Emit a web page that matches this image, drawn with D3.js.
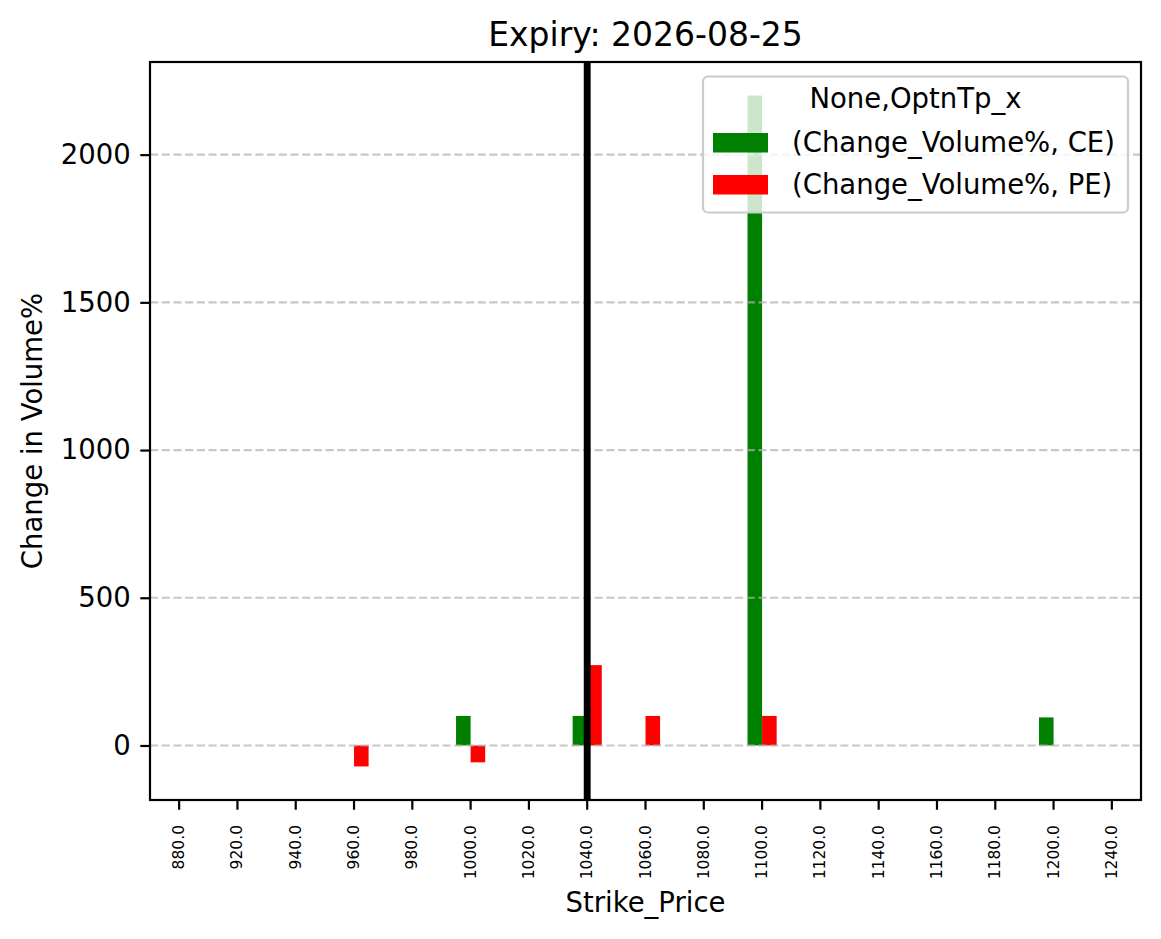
<!DOCTYPE html>
<html>
<head>
<meta charset="utf-8">
<script src="https://cdn.jsdelivr.net/npm/d3@7"></script>
<style>
  body { margin: 0; background: #fff; }
  text { font-family: "DejaVu Sans", sans-serif; fill: #000; }
</style>
</head>
<body>
<div id="chart"></div>
<script>
// strike prices (x categories)
const strikes = ["880.0", "920.0", "940.0", "960.0", "980.0", "1000.0", "1020.0", "1040.0",
  "1060.0", "1080.0", "1100.0", "1120.0", "1140.0", "1160.0", "1180.0", "1200.0", "1240.0"];
// change volume % per strike, null = no bar
const ceValues = [null, null, null, null, null, 100, null, 100, null, null, 2200, null, null, null, null, 95, null];
const peValues = [null, null, null, -71, null, -57, null, 272, 100, null, 100, null, null, null, null, null, null];
const yTicks = [0, 500, 1000, 1500, 2000];
const seriesNames = ["(Change_Volume%, CE)", "(Change_Volume%, PE)"];
const seriesColors = ["green", "red"];
const spotStrike = "1040.0";
const title = "Expiry: 2026-08-25";

const W = 1161, H = 939;
const mLeft = 150, mRight = 1141, mTop = 62, mBottom = 800;

const svg = d3.select("#chart").append("svg")
  .attr("width", W)
  .attr("height", H);

svg.append("rect").attr("width", W).attr("height", H).attr("fill", "#fff");

const x = d3.scaleBand()
  .domain(strikes)
  .range([mLeft, mRight])
  .padding(0);

// matplotlib style 5% margins
const all = ceValues.concat(peValues).filter(v => v !== null);
const lo = Math.min(0, d3.min(all)), hi = d3.max(all);
const pad = (hi - lo) * 0.05;
const y = d3.scaleLinear()
  .domain([lo - pad, hi + pad])
  .range([mBottom, mTop]);

const bw = x.bandwidth() * 0.25;

// bars
const g = svg.append("g");
[ceValues, peValues].forEach((vals, si) => {
  g.selectAll(null)
    .data(strikes.map((s, i) => ({s: s, v: vals[i]})).filter(d => d.v !== null))
    .enter().append("rect")
    .attr("x", d => x(d.s) + x.bandwidth() / 2 - bw + si * bw)
    .attr("width", bw)
    .attr("y", d => y(Math.max(0, d.v)))
    .attr("height", d => Math.abs(y(d.v) - y(0)))
    .attr("fill", seriesColors[si]);
});

// grid
svg.append("g").selectAll("line")
  .data(yTicks)
  .enter().append("line")
  .attr("x1", mLeft).attr("x2", mRight)
  .attr("y1", d => y(d)).attr("y2", d => y(d))
  .attr("stroke", "#b0b0b0")
  .attr("stroke-opacity", 0.7)
  .attr("stroke-width", 2.2)
  .attr("stroke-dasharray", "8.2,3.5");

// vertical spot line
svg.append("line")
  .attr("x1", x(spotStrike) + x.bandwidth() / 2)
  .attr("x2", x(spotStrike) + x.bandwidth() / 2)
  .attr("y1", mTop).attr("y2", mBottom)
  .attr("stroke", "#000")
  .attr("stroke-width", 6.9);

// axes
const xAxis = svg.append("g")
  .attr("transform", "translate(0," + mBottom + ")")
  .call(d3.axisBottom(x).tickSize(9.7).tickSizeOuter(0));
xAxis.select(".domain").remove();
xAxis.selectAll(".tick line").attr("stroke-width", 2.2);
xAxis.selectAll(".tick text")
  .attr("font-size", 15.5)
  .attr("font-family", "DejaVu Sans")
  .attr("text-anchor", "end")
  .attr("dominant-baseline", "central")
  .attr("dy", null)
  .attr("y", 0)
  .attr("transform", "translate(0,25) rotate(-90)");

const yAxis = svg.append("g")
  .attr("transform", "translate(" + mLeft + ",0)")
  .call(d3.axisLeft(y).tickValues(yTicks).tickFormat(d3.format("d"))
    .tickSize(9.7).tickPadding(9.6).tickSizeOuter(0));
yAxis.select(".domain").remove();
yAxis.selectAll(".tick line").attr("stroke-width", 2.2);
yAxis.selectAll(".tick text")
  .attr("font-size", 27.5)
  .attr("font-family", "DejaVu Sans");

// frame
svg.append("rect")
  .attr("x", mLeft).attr("y", mTop)
  .attr("width", mRight - mLeft).attr("height", mBottom - mTop)
  .attr("fill", "none")
  .attr("stroke", "#000")
  .attr("stroke-width", 2.2);

// title and labels
svg.append("text")
  .attr("x", (mLeft + mRight) / 2).attr("y", 46)
  .attr("text-anchor", "middle")
  .attr("font-size", 33)
  .text(title);

svg.append("text")
  .attr("x", (mLeft + mRight) / 2).attr("y", 912)
  .attr("text-anchor", "middle")
  .attr("font-size", 27.5)
  .text("Strike_Price");

svg.append("text")
  .attr("transform", "translate(42," + ((mTop + mBottom) / 2) + ") rotate(-90)")
  .attr("text-anchor", "middle")
  .attr("font-size", 27.5)
  .text("Change in Volume%");

// legend
const lg = svg.append("g");
lg.append("rect")
  .attr("x", 703).attr("y", 76.5)
  .attr("width", 425).attr("height", 136)
  .attr("rx", 5)
  .attr("fill", "#fff")
  .attr("fill-opacity", 0.8)
  .attr("stroke", "#cccccc")
  .attr("stroke-width", 2.2);
lg.append("text")
  .attr("x", 915.5).attr("y", 108)
  .attr("text-anchor", "middle")
  .attr("font-size", 27.5)
  .text("None,OptnTp_x");
seriesNames.forEach((name, i) => {
  lg.append("rect")
    .attr("x", 713).attr("y", 133 + i * 42)
    .attr("width", 55).attr("height", 19.5)
    .attr("fill", seriesColors[i]);
  lg.append("text")
    .attr("x", 792).attr("y", 152 + i * 42)
    .attr("font-size", 27.5)
    .text(name);
});
</script>
</body>
</html>
